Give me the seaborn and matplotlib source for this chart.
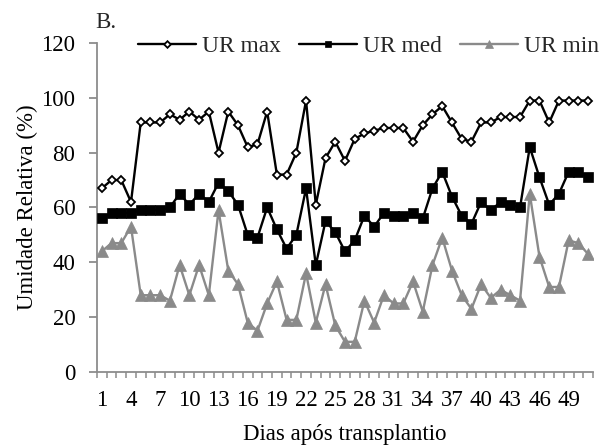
import numpy as np
import pandas as pd
import matplotlib
matplotlib.use("Agg")
import matplotlib.pyplot as plt
import seaborn as sns
from matplotlib.ticker import FixedLocator

days = list(range(1, 52))
ur_max = [67, 70, 70, 62, 91, 91, 91, 94, 92, 95,
          92, 95, 80, 95, 90, 82, 83, 95, 72, 72,
          80, 99, 61, 78, 84, 77, 85, 87, 88, 89,
          89, 89, 84, 90, 94, 97, 91, 85, 84, 91,
          91, 93, 93, 93, 99, 99, 91, 99, 99, 99, 99]
ur_med = [56, 58, 58, 58, 59, 59, 59, 60, 65, 61,
          65, 62, 69, 66, 61, 50, 49, 60, 52, 45,
          50, 67, 39, 55, 51, 44, 48, 57, 53, 58,
          57, 57, 58, 56, 67, 73, 64, 57, 54, 62,
          59, 62, 61, 60, 82, 71, 61, 65, 73, 73, 71]
ur_min = [44, 47, 47, 53, 28, 28, 28, 26, 39, 28,
          39, 28, 59, 37, 32, 18, 15, 25, 33, 19,
          19, 36, 18, 32, 17, 11, 11, 26, 18, 28,
          25, 25, 33, 22, 39, 49, 37, 28, 23, 32,
          27, 30, 28, 26, 65, 42, 31, 31, 48, 47, 43]
series_names = ["UR max", "UR med", "UR min"]
xtick_labels = [str(d) for d in range(1, 52, 3)]
yticks = [0, 20, 40, 60, 80, 100, 120]

sns.set_theme(style="white")
plt.rcParams['font.family'] = ['Liberation Serif', 'DejaVu Serif']

fig = plt.figure(figsize=(6.06, 4.46), dpi=100)
ax = fig.add_axes([0.160, 0.166, 0.8185, 0.7376])

gray = "#8a8a8a"
df_max = pd.DataFrame({"dia": days, "ur": ur_max})
df_med = pd.DataFrame({"dia": days, "ur": ur_med})
df_min = pd.DataFrame({"dia": days, "ur": ur_min})

sns.lineplot(data=df_min, x="dia", y="ur", ax=ax, color=gray, lw=1.7,
             marker="^", markersize=8.5, markerfacecolor=gray, markeredgecolor=gray,
             markeredgewidth=0.5, label=series_names[2], zorder=2)
sns.lineplot(data=df_med, x="dia", y="ur", ax=ax, color="black", lw=1.7,
             marker="s", markersize=6.6, markerfacecolor="black", markeredgecolor="black",
             markeredgewidth=0.5, label=series_names[1], zorder=3)
sns.lineplot(data=df_max, x="dia", y="ur", ax=ax, color="black", lw=1.7,
             marker="D", markersize=4.5, markerfacecolor="white", markeredgecolor="black",
             markeredgewidth=1.3, label=series_names[0], zorder=4)

ax.set_xlim(0.5, 51.5)
ax.set_ylim(0, 120)
ax.set_yticks(yticks)
ax.set_xticks(list(range(1, 52, 3)))
ax.set_xticklabels(xtick_labels)
ax.xaxis.set_minor_locator(FixedLocator(np.arange(0.5, 52, 1.0)))

for s in ["top", "right"]:
    ax.spines[s].set_visible(False)
for s in ["left", "bottom"]:
    ax.spines[s].set_color("#8c8c8c")
    ax.spines[s].set_linewidth(1.3)

ax.tick_params(axis="y", which="major", left=True, direction="out", length=5.5,
               width=1.3, color="#8c8c8c", labelsize=16.5, pad=10, labelcolor="black")
ax.tick_params(axis="x", which="major", bottom=True, length=0, labelsize=16.5, pad=13,
               labelcolor="black")
ax.tick_params(axis="x", which="minor", bottom=True, direction="out", length=4,
               width=1.1, color="#8c8c8c")

ax.set_xlabel("Dias após transplantio", fontsize=16.5, color="black", va="center")
ax.xaxis.set_label_coords(0.5, -0.191)
ax.set_ylabel("Umidade Relativa (%)", fontsize=16.5, color="black", va="center")
ax.yaxis.set_label_coords(-0.141, 0.5)

handles, labels = ax.get_legend_handles_labels()
order = [labels.index(n) for n in series_names]
leg = ax.legend([handles[i] for i in order], [labels[i] for i in order],
                loc="center left", bbox_to_anchor=(0.083, 0.99), ncol=3, frameon=False,
                fontsize=16.8, handlelength=2.5, handletextpad=0.22, columnspacing=0.8,
                borderpad=0, borderaxespad=0, markerscale=0.75)

fig.text(95 / 606, 1 - 22 / 446, "B.", fontsize=16.5, va="center", ha="left")

fig.savefig("out.png", dpi=100)
